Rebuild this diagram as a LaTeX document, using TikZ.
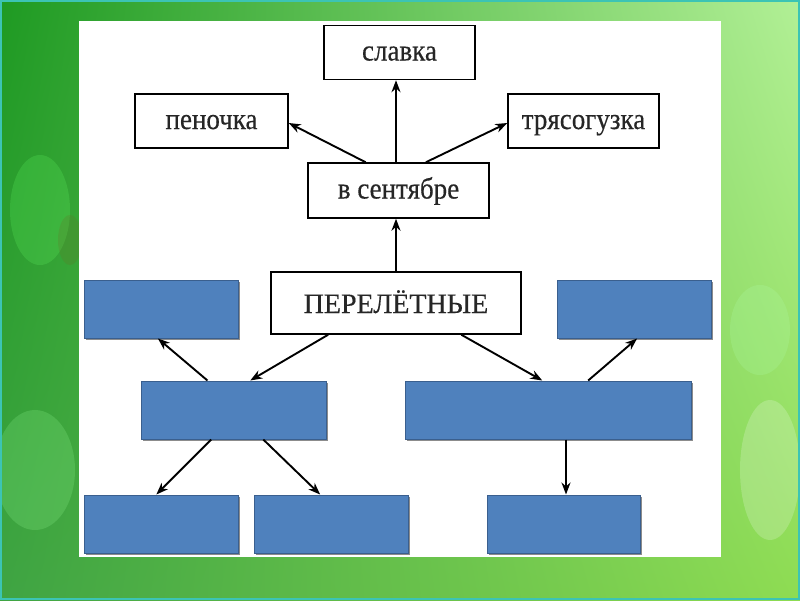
\documentclass[tikz,border=0pt]{standalone}
\usepackage{fontspec}
\setmainfont{Liberation Serif}[FakeStretch=0.9, FakeBold=0.4]
\newfontfamily\capsfont{Liberation Serif}[FakeBold=0.4]
\usetikzlibrary{calc,arrows.meta,shadows,shadings}
\definecolor{bluefill}{HTML}{4F81BD}
\definecolor{blueedge}{HTML}{3A5F8E}
\definecolor{bgtl}{HTML}{1E9A22}
\definecolor{bgtr}{HTML}{B2F096}
\definecolor{bgbl}{HTML}{3FA443}
\definecolor{bgbr}{HTML}{8EDC52}
\definecolor{framec}{HTML}{3CC4B4}
\tikzset{
  wbox/.style={draw=black, line width=1.5pt, fill=white, inner sep=0pt,
    text height=16pt, text depth=0pt, text=black!85,
    font=\fontsize{30}{32}\selectfont},
  bbox/.style={draw=blueedge, line width=1pt, fill=bluefill, inner sep=0pt,
    drop shadow={shadow xshift=1.5pt, shadow yshift=-1.5pt, opacity=0.45, fill=black}},
  arr/.style={draw=black, line width=1.9pt, -{Stealth[length=12pt,width=9pt]}},
  leaf/.style={fill=#1, draw=none, opacity=0.2}
}
\begin{document}
\begin{tikzpicture}[x=1pt,y=-1pt]
\useasboundingbox (0,0) rectangle (800,600);
% background
\shade[upper left=bgtl, upper right=bgtr, lower left=bgbl, lower right=bgbr] (0,0) rectangle (800,600);
\fill[leaf=green!60!white] (40,210) ellipse (30 and 55);
\fill[leaf=olive!70!black] (70,240) ellipse (12 and 25);
\fill[leaf=green!40!white] (35,470) ellipse (40 and 60);
\fill[leaf=white] (770,470) ellipse (30 and 70);
\fill[leaf=green!30!white] (760,330) ellipse (30 and 45);
\draw[framec, line width=2pt] (1,1) rectangle (799,599);
% white panel
\fill[white] (79,21) rectangle (721,557);
% top white boxes
\node[wbox, minimum width=151pt, minimum height=54pt] (slavka) at (399.5,52.5) {славка};
\node[wbox, minimum width=153pt, minimum height=54pt] (penochka) at (211.5,121) {пеночка};
\node[wbox, minimum width=151pt, minimum height=54pt] (tryas) at (583.5,121) {трясогузка};
\node[wbox, minimum width=181pt, minimum height=55pt] (sent) at (398.5,190.5) {в сентябре};
\node[wbox, minimum width=250pt, minimum height=62pt, text height=20pt, font=\capsfont\fontsize{28}{31}\selectfont] (perel) at (396,303) {ПЕРЕЛЁТНЫЕ};
% blue boxes
\node[bbox, minimum width=154pt, minimum height=58pt] (tl) at (161,309) {};
\node[bbox, minimum width=154pt, minimum height=58pt] (tr) at (634,309) {};
\node[bbox, minimum width=185pt, minimum height=58pt] (ml) at (233.5,410) {};
\node[bbox, minimum width=286pt, minimum height=58pt] (mr) at (548,410) {};
\node[bbox, minimum width=154pt, minimum height=58pt] (b1) at (161,524) {};
\node[bbox, minimum width=154pt, minimum height=58pt] (b2) at (331,524) {};
\node[bbox, minimum width=153pt, minimum height=58pt] (b3) at (563.5,524) {};
% arrows
\draw[arr] (perel.north) -- (perel.north |- sent.south);
\draw[arr] ($(sent.north)+(-2.5,0)$) -- ($(sent.north |- slavka.south)+(-2.5,0)$);
\draw[arr] ($(sent.north west)!0.32!(sent.north east)$) -- ($(penochka.east)+(0,2)$);
\draw[arr] ($(sent.north west)!0.65!(sent.north east)$) -- ($(tryas.west)+(0,2)$);
\draw[arr] ($(perel.south west)!0.23!(perel.south east)$) -- ($(ml.north west)!0.59!(ml.north east)$);
\draw[arr] ($(ml.north west)!0.36!(ml.north east)$) -- ($(tl.south west)!0.48!(tl.south east)$);
\draw[arr] ($(perel.south west)!0.76!(perel.south east)$) -- ($(mr.north west)!0.48!(mr.north east)$);
\draw[arr] ($(mr.north west)!0.64!(mr.north east)$) -- ($(tr.south west)!0.52!(tr.south east)$);
\draw[arr] ($(ml.south west)!0.38!(ml.south east)$) -- ($(b1.north west)!0.47!(b1.north east)$);
\draw[arr] ($(ml.south west)!0.66!(ml.south east)$) -- ($(b2.north west)!0.43!(b2.north east)$);
\draw[arr] ($(mr.south -| b3.north)+(2.5,0)$) -- ($(b3.north)+(2.5,0)$);
\end{tikzpicture}
\end{document}
